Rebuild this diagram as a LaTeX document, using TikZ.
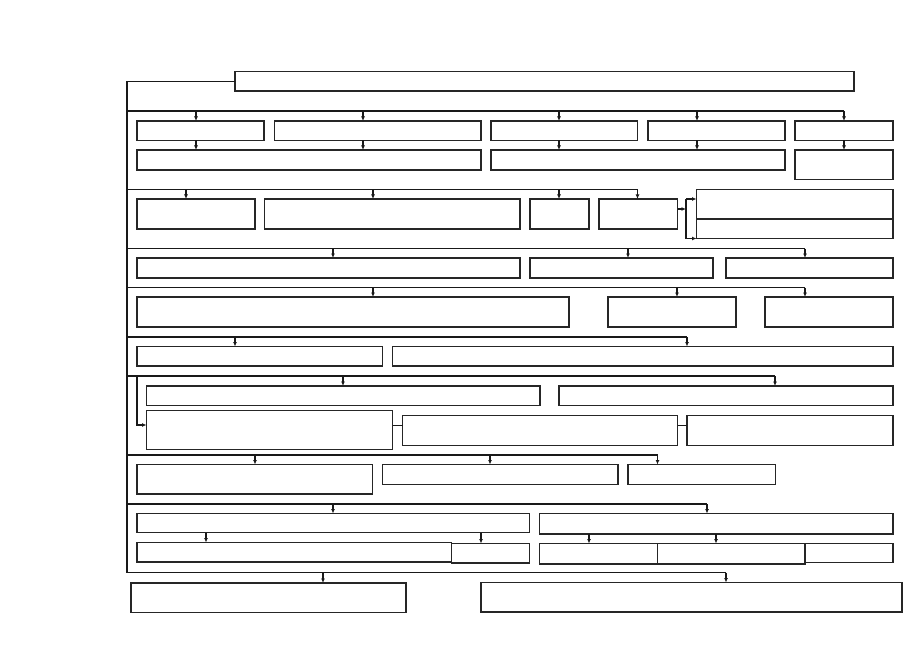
\documentclass[tikz,border=0pt]{standalone}
\usetikzlibrary{arrows.meta}
\tikzset{
  bx/.style={draw=black!85, line width=1.1pt, inner sep=0pt, outer sep=0pt, rectangle},
  ln/.style={draw=black!90, line width=1.1pt},
  arr/.style={ln, -{Latex[length=4.5pt,width=4pt]}}
}
\newcommand\bx[5]{\node[bx,anchor=north west,minimum width={(#4-#2)*1pt},minimum height={(#5-#3)*1pt}] (#1) at (#2,#3) {};}
\begin{document}
\begin{tikzpicture}[x=1pt,y=-1pt]
\useasboundingbox (0,0) rectangle (919,650);
% boxes
\bx{T}{235}{71.5}{854}{91}
\bx{A}{137}{121}{264}{140.5}
\bx{B}{274.5}{121}{481}{140.5}
\bx{C}{491}{121}{637.5}{140.5}
\bx{D}{648}{121}{785}{140.5}
\bx{E}{795}{121}{893}{140.5}
\bx{F}{137}{150}{481}{170}
\bx{G}{491}{150}{785}{170}
\bx{H}{795}{150}{893}{179.5}
\bx{I}{137}{199}{255}{229}
\bx{J}{264.5}{199}{520}{229}
\bx{K}{530}{199}{589}{229}
\bx{L}{599}{199}{677.5}{229}
\bx{Ma}{696.5}{189.5}{893}{219}
\bx{Mb}{696.5}{219}{893}{238.5}
\bx{N}{137}{258}{520}{278}
\bx{O}{530}{258}{713}{278}
\bx{P}{726}{258}{893}{278}
\bx{Q}{137}{297}{569}{327}
\bx{R}{608}{297}{736}{327}
\bx{S}{765}{297}{893}{327}
\bx{Tt}{137}{346.5}{382.5}{366}
\bx{U}{392.5}{346.5}{893}{366}
\bx{Va}{146.5}{386}{540}{405.5}
\bx{Vb}{559}{386}{893}{405.5}
\bx{W}{146.5}{410.5}{392.5}{449.5}
\bx{X}{402.5}{415.5}{677.5}{445.5}
\bx{Y}{687}{415.5}{893}{445.5}
\bx{Za}{137}{464.5}{372.5}{494}
\bx{Zb}{382.5}{464.5}{618}{484.5}
\bx{Zc}{628}{464.5}{775.5}{484.5}
\bx{AA}{137}{513.5}{529.5}{532.5}
\bx{AB}{539.5}{513.5}{893}{534}
\bx{AC}{137}{542.5}{451.5}{562}
\bx{AD}{451.5}{543.5}{529.5}{563}
\bx{AE}{539.5}{543.5}{657.5}{564}
\bx{AF}{657.5}{543.5}{805}{564}
\bx{AG}{805}{543.5}{893}{562.5}
\bx{BA}{131}{583}{406}{612.5}
\bx{BB}{481}{582.5}{902}{612}
% spine
\coordinate (sp) at (127,572.5);
\draw[ln] (T.west) -- (T.west -| sp) -- (sp);
% bars
\coordinate (b1) at (127,111);
\coordinate (b2) at (127,189.5);
\coordinate (b3) at (127,248.5);
\coordinate (b4) at (127,287.5);
\coordinate (b5) at (127,337);
\coordinate (b6) at (127,376);
\coordinate (b7) at (127,455);
\coordinate (b8) at (127,504);
\coordinate (b9) at (127,572.5);
\draw[ln] (b1) -- (b1 -| 844,0);
\draw[ln] (b2) -- (b2 -| 637.5,0);
\draw[ln] (b3) -- (b3 -| 805,0);
\draw[ln] (b4) -- (b4 -| 805,0);
\draw[ln] (b5) -- (b5 -| 687,0);
\draw[ln] (b6) -- (b6 -| 775,0);
\draw[ln] (b7) -- (b7 -| 657.5,0);
\draw[ln] (b8) -- (b8 -| 707,0);
\draw[ln] (b9) -- (b9 -| 726,0);
% group 1
\draw[arr] (b1 -| 196,0) -- (A.north -| 196,0);
\draw[arr] (b1 -| 363,0) -- (B.north -| 363,0);
\draw[arr] (b1 -| 559,0) -- (C.north -| 559,0);
\draw[arr] (b1 -| 697,0) -- (D.north -| 697,0);
\draw[arr] (b1 -| 844,0) -- (E.north -| 844,0);
\draw[arr] (A.south -| 196,0) -- (F.north -| 196,0);
\draw[arr] (B.south -| 363,0) -- (F.north -| 363,0);
\draw[arr] (C.south -| 559,0) -- (G.north -| 559,0);
\draw[arr] (D.south -| 697,0) -- (G.north -| 697,0);
\draw[arr] (E.south -| 844,0) -- (H.north -| 844,0);
% group 2
\draw[arr] (b2 -| 186,0) -- (I.north -| 186,0);
\draw[arr] (b2 -| 373,0) -- (J.north -| 373,0);
\draw[arr] (b2 -| 559,0) -- (K.north -| 559,0);
\draw[arr] (b2 -| 637.5,0) -- (L.north -| 637.5,0);
\coordinate (br) at (686,209);
\draw[arr] (L.east |- br) -- (br);
\draw[ln] (686,199) -- (686,238.5);
\draw[arr] (686,199) -- (Ma.west |- 0,199);
\draw[arr] (686,238.5) -- (Mb.south west);
% group 3
\draw[arr] (b3 -| 333,0) -- (N.north -| 333,0);
\draw[arr] (b3 -| 628,0) -- (O.north -| 628,0);
\draw[arr] (b3 -| 805,0) -- (P.north -| 805,0);
% group 4
\draw[arr] (b4 -| 373,0) -- (Q.north -| 373,0);
\draw[arr] (b4 -| 677,0) -- (R.north -| 677,0);
\draw[arr] (b4 -| 805,0) -- (S.north -| 805,0);
% group 5
\draw[arr] (b5 -| 235,0) -- (Tt.north -| 235,0);
\draw[arr] (b5 -| 687,0) -- (U.north -| 687,0);
% group 6
\draw[arr] (b6 -| 343,0) -- (Va.north -| 343,0);
\draw[arr] (b6 -| 775,0) -- (Vb.north -| 775,0);
\draw[arr] (b6 -| 137,0) -- (137,425) -- (W.west |- 0,425);
\draw[ln] (W.east |- 0,425.5) -- (X.west |- 0,425.5);
\draw[ln] (X.east |- 0,425.5) -- (Y.west |- 0,425.5);
% group 7
\draw[arr] (b7 -| 255,0) -- (Za.north -| 255,0);
\draw[arr] (b7 -| 490,0) -- (Zb.north -| 490,0);
\draw[arr] (b7 -| 657.5,0) -- (Zc.north -| 657.5,0);
% group 8
\draw[arr] (b8 -| 333,0) -- (AA.north -| 333,0);
\draw[arr] (b8 -| 707,0) -- (AB.north -| 707,0);
\draw[arr] (AA.south -| 206,0) -- (AC.north -| 206,0);
\draw[arr] (AA.south -| 481,0) -- (AD.north -| 481,0);
\draw[arr] (AB.south -| 589,0) -- (AE.north -| 589,0);
\draw[arr] (AB.south -| 716,0) -- (AF.north -| 716,0);
% group 9
\draw[arr] (b9 -| 323,0) -- (BA.north -| 323,0);
\draw[arr] (b9 -| 726,0) -- (BB.north -| 726,0);
\end{tikzpicture}
\end{document}
